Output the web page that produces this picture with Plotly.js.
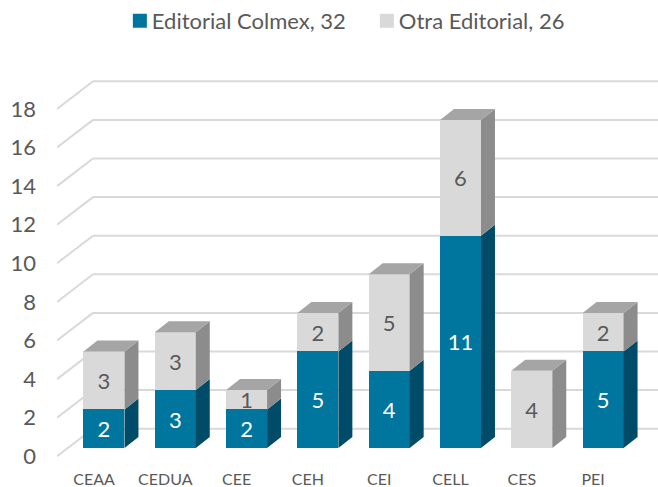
<!DOCTYPE html>
<html><head><meta charset="utf-8">
<script src="https://cdn.plot.ly/plotly-3.0.1.min.js"></script>
<style>html,body{margin:0;padding:0;background:#fff}</style></head>
<body><div id="chart" style="width:658px;height:487px"></div>
<script>
const categories = ["CEAA","CEDUA","CEE","CEH","CEI","CELL","CES","PEI"];
const colmex = [2,3,2,5,4,11,0,5];
const otra = [3,3,1,2,5,6,4,2];
const yTicks = [0,2,4,6,8,10,12,14,16,18];

const FONT = "Lato, 'Open Sans', sans-serif";
const barW = 0.575, dxBar = 0.196, dyBar = 0.57;
const frontX = -0.659, frontY = -0.43, wallDx = 0.505, wallDy = 1.43, xEnd = 7.77;
const idx = categories.map((_, i) => i);

function sides(base, top) {
  const xs = [], ys = [];
  idx.forEach(i => {
    if (top[i] === base[i]) return;
    const r = i + barW / 2;
    xs.push(r, r + dxBar, r + dxBar, r, r, null);
    ys.push(base[i], base[i] + dyBar, top[i] + dyBar, top[i], base[i], null);
  });
  return {x: xs, y: ys};
}
const totals = idx.map(i => colmex[i] + otra[i]);
const zeros = idx.map(() => 0);
const blueSide = sides(zeros, colmex);
const graySide = sides(colmex, totals);
const tx = [], ty = [];
idx.forEach(i => {
  const l = i - barW / 2, r = i + barW / 2, t = totals[i];
  tx.push(l, l + dxBar, r + dxBar, r, l, null);
  ty.push(t, t + dyBar, t + dyBar, t, t, null);
});
const poly = (p, color) => ({type:"scatter", mode:"lines", x:p.x, y:p.y, fill:"toself", fillcolor:color,
  line:{width:0, color:color}, hoverinfo:"skip", showlegend:false});

const shapes = [];
yTicks.forEach(v => {
  const line = {type:"line", xref:"x", yref:"y", layer:"below", line:{color:"#D9D9D9", width:2}};
  shapes.push(Object.assign({}, line, {x0:frontX, y0:v+frontY, x1:frontX+wallDx, y1:v+frontY+wallDy}));
  shapes.push(Object.assign({}, line, {x0:frontX+wallDx, y0:v+frontY+wallDy, x1:xEnd, y1:v+frontY+wallDy}));
});

const data = [
  {type:"bar", name:"Editorial Colmex, 32", x:idx, y:colmex, width:barW, marker:{color:"#00769F", line:{width:0}},
   text:colmex.map(v => v ? String(v) : ""), textposition:"inside", insidetextanchor:"middle", textangle:0,
   constraintext:"none", insidetextfont:{family:FONT, size:22, color:"#FFFFFF"}, hoverinfo:"x+y"},
  {type:"bar", name:"Otra Editorial, 26", x:idx, y:otra, width:barW, marker:{color:"#D9D9D9", line:{width:0}},
   text:otra.map(v => v ? String(v) : ""), textposition:"inside", insidetextanchor:"middle", textangle:0,
   constraintext:"none", insidetextfont:{family:FONT, size:22, color:"#595959"}, hoverinfo:"x+y"},
  poly(blueSide, "#004C68"),
  poly(graySide, "#8C8C8C"),
  poly({x:tx, y:ty}, "#A5A5A5")
];

const layout = {
  width:658, height:487, paper_bgcolor:"#fff", plot_bgcolor:"#fff",
  margin:{l:57, r:0, t:70, b:22}, barmode:"stack", shapes:shapes,
  font:{family:FONT, color:"#595959"},
  showlegend:true,
  legend:{orientation:"h", xref:"container", yref:"container", x:0.170, y:1.0, xanchor:"left", yanchor:"top",
    entrywidth:202, entrywidthmode:"pixels",
    font:{family:FONT, size:22, color:"#595959"}, traceorder:"normal"},
  xaxis:{range:[frontX, xEnd], tickmode:"array", tickvals:idx.map(i => i - 0.14), ticktext:categories,
    showgrid:false, zeroline:false, showline:false, ticks:"", tickangle:0, tickfont:{family:FONT, size:16, color:"#595959"}, ticklabelstandoff:3},
  yaxis:{range:[-0.881, 19.585], tickmode:"array", tickvals:yTicks.map(v => v + frontY), ticktext:yTicks.map(String),
    showgrid:false, zeroline:false, showline:false, ticks:"", tickfont:{family:FONT, size:22, color:"#595959"}, ticklabelstandoff:20}
};
Plotly.newPlot("chart", data, layout, {displayModeBar:false, staticPlot:true}).then(() => {
  document.querySelectorAll("#chart .legend .legendsymbols").forEach(g => g.setAttribute("transform", "translate(8,0)"));
  document.querySelectorAll("#chart .legend .legendpoints path").forEach(p => p.setAttribute("d", "M7,7H-7V-7H7Z"));
});
</script></body></html>
